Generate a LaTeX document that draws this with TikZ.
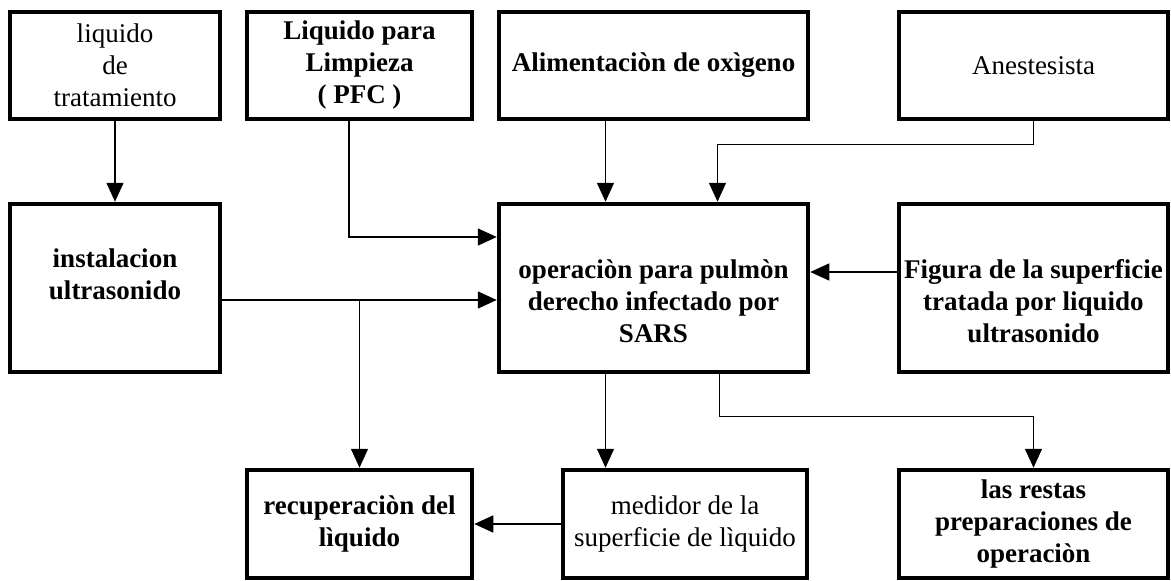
\documentclass[tikz,border=0pt]{standalone}
\usepackage{fontspec}
\setmainfont{Liberation Serif}
\usetikzlibrary{arrows.meta,calc}

\tikzset{
  caja/.style={draw, line width=4.5pt, align=center, inner sep=2pt,
    font=\fontsize{27}{32}\selectfont},
  cajab/.style={caja, font=\fontsize{27}{32}\selectfont\bfseries},
  flecha/.style={line width=1.5pt, -{Triangle[length=19pt,width=17pt]}}
}

\begin{document}
\begin{tikzpicture}[x=1pt,y=-1pt]
    \useasboundingbox (0,0) rectangle (1171,581);

    % upper row
    \node[caja, minimum width=210pt, minimum height=107pt] (tratamiento) at (115,65.5) {liquido\\de\\tratamiento};
    \node[cajab, minimum width=225pt, minimum height=107pt] (pfc) at (359.5,65.5) {Liquido para\\Limpieza\\( PFC )};
    \node[cajab, minimum width=309pt, minimum height=107pt] (oxigeno) at (653.5,65.5) {Alimentaciòn de oxìgeno};
    \node[caja, minimum width=269pt, minimum height=107pt] (anestesista) at (1033.5,65.5) {Anestesista};

    % middle row
    \node[cajab, minimum width=210pt, minimum height=168pt] (instalacion) at (115,288) {instalacion\\ultrasonido\\[-14pt]\strut};
    \node[cajab, minimum width=309pt, minimum height=168pt] (operacion) at (653.5,288) {\strut\\[-10pt]operaciòn para pulmòn\\derecho infectado por\\SARS};
    \node[cajab, minimum width=269pt, minimum height=168pt] (figura) at (1033.5,288) {\strut\\[-10pt]Figura de la superficie\\tratada por liquido\\ultrasonido};

    % lower row
    \node[cajab, minimum width=225pt, minimum height=108pt] (recuperacion) at (359.5,524) {recuperaciòn del\\lìquido};
    \node[caja, minimum width=244pt, minimum height=108pt] (medidor) at (685,524) {medidor de la\\superficie de lìquido};
    \node[cajab, minimum width=269pt, minimum height=108pt] (restas) at (1033.5,524) {las restas\\preparaciones de\\operaciòn};

    % connectors
    \draw[flecha] (tratamiento) -- (instalacion);
    \draw[flecha] ([xshift=-10.5pt]pfc.south) |- ([yshift=51pt]operacion.west);
    \draw[flecha] ([xshift=-48pt]oxigeno.south) -- ([xshift=-48pt]operacion.north);
    \draw[flecha] (anestesista.south) -- ++(0,23) -| ([xshift=64pt]operacion.north);
    \draw[flecha] ([yshift=-12pt]instalacion.east) -- ([yshift=-12pt]operacion.west);
    \draw[flecha] ([yshift=-12pt]instalacion.east -| recuperacion.north) -- (recuperacion.north);
    \draw[flecha] ([yshift=16pt]figura.west) -- ([yshift=16pt]operacion.east);
    \draw[flecha] ([xshift=-48pt]operacion.south) -- ([xshift=-48pt]operacion.south |- medidor.north);
    \draw[flecha] ([xshift=66pt]operacion.south) -- ++(0,42) -| (restas.north);
    \draw[flecha] (medidor.west) -- (recuperacion.east);

\end{tikzpicture}
\end{document}
